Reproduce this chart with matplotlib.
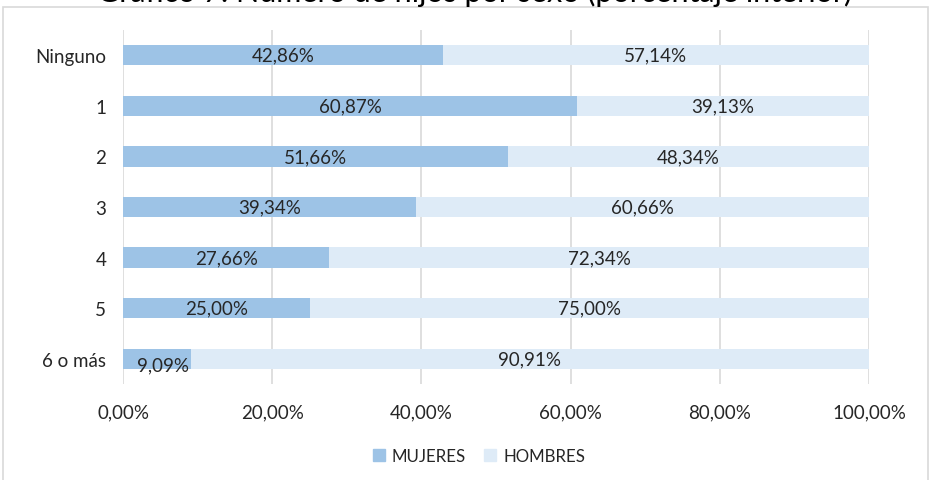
import matplotlib.pyplot as plt
from matplotlib.patches import Rectangle, Patch

plt.rcParams['font.family'] = ['Lato', 'DejaVu Sans']

categorias = ['Ninguno', '1', '2', '3', '4', '5', '6 o más']
mujeres = [42.86, 60.87, 51.66, 39.34, 27.66, 25.00, 9.09]
hombres = [57.14, 39.13, 48.34, 60.66, 72.34, 75.00, 90.91]
ticks = [0, 20, 40, 60, 80, 100]
tick_labels = ['0,00%', '20,00%', '40,00%', '60,00%', '80,00%', '100,00%']
titulo = 'Gráfico 7. Número de hijos por sexo (porcentaje interior)'

C_MUJ = '#9DC3E6'
C_HOM = '#DEEBF7'
TXT = '#262626'

fig = plt.figure(figsize=(9.3, 4.81), dpi=100)
ax = fig.add_axes([123/930, 1 - 385/481, 746/930, 354/481])

# marco exterior
fig.patches.append(Rectangle((3/930, -0.05), 925/930, 1.05 - 8/481,
                             transform=fig.transFigure, fill=False,
                             edgecolor='#D9D9D9', lw=1.2, zorder=0))

# titulo (cortado en la imagen original)
fig.text(475/930, 1 - 2/481, titulo, ha='center', va='baseline',
         fontsize=22, color='black')

y = list(range(len(categorias)))
ax.barh(y, mujeres, height=0.4, color=C_MUJ, label='MUJERES', zorder=2)
ax.barh(y, hombres, left=mujeres, height=0.4, color=C_HOM, label='HOMBRES', zorder=2)

for i in y:
    m, h = mujeres[i], hombres[i]
    lab_m = f'{m:.2f}%'.replace('.', ',')
    lab_h = f'{h:.2f}%'.replace('.', ',')
    ym = i + 0.12 if m < 15 else i
    ax.text(m / 2 + (0.8 if m < 15 else 0), ym, lab_m, ha='center', va='center',
            fontsize=13.5, color=TXT, zorder=3)
    ax.text(m + h / 2, i, lab_h, ha='center', va='center',
            fontsize=13.5, color=TXT, zorder=3)

ax.set_xlim(0, 100)
ax.set_ylim(len(categorias) - 0.5, -0.5)
ax.set_yticks(y)
ax.set_yticklabels(categorias)
ax.set_xticks(ticks)
ax.set_xticklabels(tick_labels)
ax.tick_params(axis='both', length=0, labelsize=13.5, labelcolor=TXT)
ax.tick_params(axis='y', pad=12)
ax.tick_params(axis='x', pad=14)
ax.grid(True, axis='x', color='#D9D9D9', lw=1.2, zorder=0)
for s in ax.spines.values():
    s.set_visible(False)

handles = [Patch(color=C_MUJ), Patch(color=C_HOM)]
fig.legend(handles, ['MUJERES', 'HOMBRES'], loc='center',
           bbox_to_anchor=(479/930, 1 - 457/481), ncol=2, frameon=False,
           fontsize=12.2, handlelength=0.7, handleheight=0.7,
           handletextpad=0.4, columnspacing=1.1, labelcolor=TXT)

fig.savefig('out.png', dpi=100)
